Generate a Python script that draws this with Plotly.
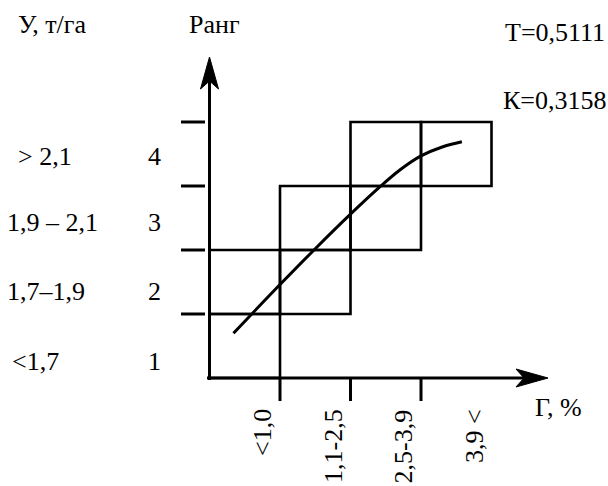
import plotly.graph_objects as go

# ---------------- data ----------------
ranks = [1, 2, 3, 4]
yield_labels = ["<1,7", "1,7–1,9", "1,9 – 2,1", "> 2,1"]
humus_labels = ["<1,0", "1,1-2,5", "2,5-3,9", "3,9 <"]
# cells (humus class, rank) of the correspondence grid
cell_humus = [1, 1, 2, 2, 3, 3, 4]
cell_rank = [1, 2, 2, 3, 3, 4, 4]
# trend curve (humus class scale vs rank scale)
curve_x = [0.34, 1.0, 1.5, 2.0, 2.4, 2.7, 3.0, 3.3, 3.58]
curve_y = [0.70, 1.46, 2.02, 2.56, 2.97, 3.25, 3.47, 3.61, 3.69]
stats = ["Т=0,5111", "К=0,3158"]
x_title = "Г, %"
y_title = "Ранг"
yield_title = "У, т/га"

# ---------------- layout helpers ----------------
W, H = 608, 486
X0_PX, XU = 209.5, 70.5   # pixel of x=0, pixels per unit
Y0_PX, YU = 378, 64.0     # pixel of y=0, pixels per unit
XR = [-X0_PX / XU, (W - X0_PX) / XU]
YR = [-(H - Y0_PX) / YU, Y0_PX / YU]


def dx(px):
    return (px - X0_PX) / XU


def dy(py):
    return (Y0_PX - py) / YU


FONT = dict(family="Liberation Serif, Times New Roman, serif", size=26, color="black")
LW = 3

fig = go.Figure()

# curve
fig.add_trace(go.Scatter(x=curve_x, y=curve_y, mode="lines",
                         line=dict(color="black", width=3, shape="spline", smoothing=1.0),
                         hoverinfo="skip", showlegend=False))

shapes = []
# grid cells
for c, r in zip(cell_humus, cell_rank):
    shapes.append(dict(type="rect", x0=c - 1, x1=c, y0=r - 1, y1=r,
                       line=dict(color="black", width=2.6), layer="above"))

# axes
y_tip, x_tip = dy(57), dx(548)
shapes.append(dict(type="line", x0=0, x1=0, y0=dy(380), y1=dy(80),
                   line=dict(color="black", width=LW)))
shapes.append(dict(type="line", x0=dx(207), x1=dx(530), y0=0, y1=0,
                   line=dict(color="black", width=LW)))
# arrowheads
shapes.append(dict(type="path",
                   path=f"M 0 {y_tip} L {dx(200.5)} {dy(89)} L 0 {dy(81)} L {dx(218.5)} {dy(89)} Z",
                   fillcolor="black", line=dict(color="black", width=1)))
shapes.append(dict(type="path",
                   path=f"M {x_tip} 0 L {dx(516)} {dy(369)} L {dx(524)} 0 L {dx(516)} {dy(387)} Z",
                   fillcolor="black", line=dict(color="black", width=1)))
# y ticks
for r in ranks:
    shapes.append(dict(type="line", x0=dx(181), x1=dx(205), y0=r, y1=r,
                       line=dict(color="black", width=LW)))
# x ticks
for c in range(1, len(humus_labels)):
    shapes.append(dict(type="line", x0=c, x1=c, y0=0, y1=dy(401),
                       line=dict(color="black", width=LW)))

ann = []
label_y_px = [361, 291, 222, 156]
label_x_px = [11, 6, 6, 17]
for r, lab, py, px in zip(ranks, yield_labels, label_y_px, label_x_px):
    ann.append(dict(x=dx(px), y=dy(py), text=lab, xanchor="left", yanchor="middle"))
    ann.append(dict(x=dx(154), y=dy(py), text=str(r), xanchor="center", yanchor="middle"))
for i, lab in enumerate(humus_labels):
    ann.append(dict(x=i + 1 - 0.25, y=dy(408), text=lab, textangle=-90,
                    xanchor="center", yanchor="top"))
ann.append(dict(x=dx(17), y=dy(24), text=yield_title, xanchor="left", yanchor="middle"))
ann.append(dict(x=dx(214), y=dy(24), text=y_title, xanchor="center", yanchor="middle"))
ann.append(dict(x=dx(504), y=dy(32), text=stats[0], xanchor="left", yanchor="middle"))
ann.append(dict(x=dx(502), y=dy(100), text=stats[1], xanchor="left", yanchor="middle"))
ann.append(dict(x=dx(534), y=dy(407), text=x_title, xanchor="left", yanchor="middle"))
for a in ann:
    a.update(xref="x", yref="y", showarrow=False, font=FONT, borderpad=0)

fig.update_layout(
    width=W, height=H, margin=dict(l=0, r=0, t=0, b=0),
    paper_bgcolor="white", plot_bgcolor="white",
    xaxis=dict(range=XR, visible=False, fixedrange=True),
    yaxis=dict(range=YR, visible=False, fixedrange=True),
    shapes=shapes, annotations=ann, showlegend=False,
)
fig.write_html("out.html", config=dict(displayModeBar=False),
               post_script="document.body.style.margin='0';document.body.style.overflow='hidden';")
